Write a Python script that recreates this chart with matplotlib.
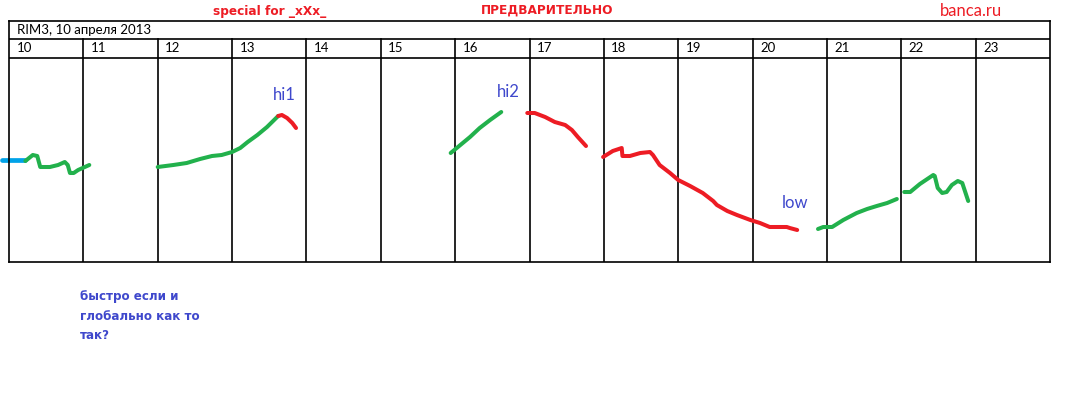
import matplotlib
matplotlib.use("Agg")
import matplotlib.pyplot as plt

# ── Data: x in day positions, y in chart level units ──
days = list(range(10, 24))
title = "RIM3, 10 апреля 2013"

blue_x = [9.91, 10.22]
blue_y = [102, 102]

green1_x = [10.22, 10.32, 10.38, 10.42, 10.55, 10.66, 10.75, 10.79, 10.82, 10.87, 10.93, 11.08]
green1_y = [101, 107, 106, 95, 95, 97, 100, 97, 89, 89, 92, 97]

green2_x = [12.00, 12.21, 12.39, 12.57, 12.73, 12.86, 13.00, 13.11, 13.21, 13.34, 13.47, 13.62]
green2_y = [95, 97, 99, 103, 106, 107, 110, 114, 120, 127, 135, 146]

red1_x = [13.62, 13.67, 13.74, 13.81, 13.86]
red1_y = [146, 147, 144, 139, 134]

green3_x = [15.94, 16.07, 16.20, 16.33, 16.47, 16.62]
green3_y = [109, 117, 125, 134, 142, 150]

red2_x = [16.97, 17.07, 17.21, 17.34, 17.48, 17.57, 17.65, 17.76]
red2_y = [149, 149, 145, 140, 137, 132, 125, 116]

red3_x = [17.99, 18.12, 18.24, 18.25, 18.35, 18.49, 18.62, 18.66, 18.75, 18.89, 19.00, 19.16,
          19.33, 19.47, 19.52, 19.66, 19.79, 19.97, 20.10, 20.23, 20.46, 20.50, 20.60]
red3_y = [105, 111, 114, 106, 106, 109, 110, 107, 97, 89, 82, 76,
          69, 61, 57, 51, 47, 42, 39, 35, 35, 34, 32]

green4_x = [20.88, 20.95, 21.07, 21.22, 21.40, 21.54, 21.67, 21.81, 21.94]
green4_y = [33, 35, 35, 42, 49, 53, 56, 59, 63]

green5_x = [22.04, 22.12, 22.25, 22.43, 22.45, 22.49, 22.55, 22.61, 22.68, 22.76, 22.82, 22.90]
green5_y = [70, 70, 78, 87, 86, 74, 69, 70, 77, 81, 79, 61]

labels = ["hi1", "hi2", "low"]
label_x = [13.70, 16.71, 20.57]
label_y = [167, 170, 59]

GREEN = '#22b14c'
RED = '#ed1c24'
LBLUE = '#00a2e8'
INDIGO = '#3f48cc'

W, H = 1076, 398
fig = plt.figure(figsize=(W / 100, H / 100), dpi=100, facecolor='white')
ax = fig.add_axes([9 / W, 136 / H, 1041 / W, 241 / H])
ax.set_xlim(10, 24)
ax.set_ylim(0, 241)
ax.set_xticks([])
ax.set_yticks([])
for s in ax.spines.values():
    s.set_color('black')
    s.set_linewidth(1.2)

# table grid
ax.axhline(223, color='black', lw=1.2)
ax.axhline(204, color='black', lw=1.2)
for d in days[1:]:
    ax.plot([d, d], [0, 223], color='black', lw=1.2)
for d in days:
    ax.text(d + 0.1, 213.5, str(d), fontsize=9.5, family='Lato', va='center', ha='left')
ax.text(10.11, 232, title, fontsize=9.5, family='Lato', va='center', ha='left')

# curves
lw = 2.9
ax.plot(blue_x, blue_y, color=LBLUE, lw=lw + 0.5, clip_on=False, solid_capstyle='round')
for xs, ys, c in [(green1_x, green1_y, GREEN), (green2_x, green2_y, GREEN),
                  (red1_x, red1_y, RED), (green3_x, green3_y, GREEN),
                  (red2_x, red2_y, RED), (red3_x, red3_y, RED),
                  (green4_x, green4_y, GREEN), (green5_x, green5_y, GREEN)]:
    ax.plot(xs, ys, color=c, lw=lw, solid_capstyle='round', solid_joinstyle='round')

for t, x, y in zip(labels, label_x, label_y):
    ax.text(x, y, t, color=INDIGO, fontsize=12, family='Lato', ha='center', va='center')

# header texts
fig.text(270 / W, 1 - 11 / H, 'special for _xXx_', color=RED, fontsize=8.7,
         fontweight='bold', ha='center', va='center')
fig.text(547 / W, 1 - 10 / H, 'ПРЕДВАРИТЕЛЬНО', color=RED, fontsize=8.7,
         fontweight='bold', ha='center', va='center')
fig.text(971 / W, 1 - 11 / H, 'banca.ru', color=RED, fontsize=12,
         family='Lato', ha='center', va='center')

fig.text(80 / W, 1 - 290 / H, 'быстро если и\nглобально как то\nтак?', color=INDIGO,
         fontsize=8.6, fontweight='bold', ha='left', va='top', linespacing=1.65)

fig.savefig('out.png', dpi=100, facecolor='white')
